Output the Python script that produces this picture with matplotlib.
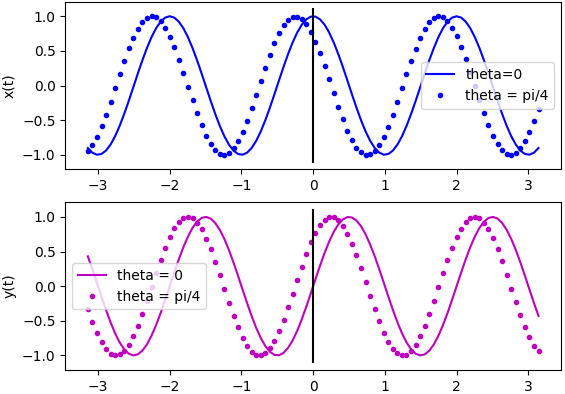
import numpy as np
import matplotlib
matplotlib.use("Agg")
import matplotlib.pyplot as plt

# values: period 2 in t, phase 0 and pi/4, 100 samples on [-pi, pi]
T_RANGE = [-np.pi, np.pi]
N_SAMPLES = 100
THETAS = [0.0, np.pi / 4]
TOP_LABELS = ["theta=0", "theta = pi/4"]
BOTTOM_LABELS = ["theta = 0", "theta = pi/4"]
XTICKS = [-3, -2, -1, 0, 1, 2, 3]
YTICKS = [-1.0, -0.5, 0.0, 0.5, 1.0]

t = np.linspace(T_RANGE[0], T_RANGE[1], N_SAMPLES)
x0, x1 = np.cos(np.pi * t + THETAS[0]), np.cos(np.pi * t + THETAS[1])
y0, y1 = np.sin(np.pi * t + THETAS[0]), np.sin(np.pi * t + THETAS[1])

fig, (ax1, ax2) = plt.subplots(2, 1, figsize=(5.65, 3.94), dpi=100)

ax1.plot(t, x0, "b-", label=TOP_LABELS[0])
ax1.plot(t, x1, "b.", label=TOP_LABELS[1])
ax1.plot([0, 0], [-1.1, 1.1], "k-")
ax1.set_ylabel("x(t)")
ax1.legend(loc="center right")

ax2.plot(t, y0, "m-", label=BOTTOM_LABELS[0])
ax2.plot(t, y1, "m.", label=BOTTOM_LABELS[1])
ax2.plot([0, 0], [-1.1, 1.1], "k-")
ax2.set_ylabel("y(t)")
ax2.legend(loc="center left")

for ax in (ax1, ax2):
    ax.set_xticks(XTICKS)
    ax.set_yticks(YTICKS)

fig.subplots_adjust(left=0.1156, right=0.993, top=0.9957, bottom=0.061, hspace=0.197)
fig.savefig("out.png")
